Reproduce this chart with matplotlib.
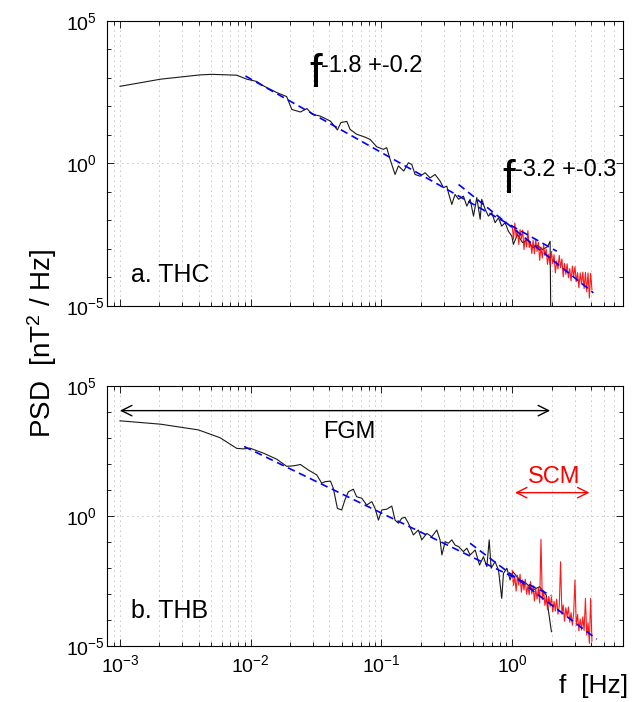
import numpy as np
import matplotlib
matplotlib.use('Agg')
import matplotlib.pyplot as plt
from matplotlib.ticker import LogLocator, NullFormatter

plt.rcParams['font.family'] = 'Liberation Sans'
plt.rcParams['mathtext.fontset'] = 'custom'
plt.rcParams['mathtext.rm'] = 'Liberation Sans'
plt.rcParams['mathtext.it'] = 'Liberation Sans:italic'
plt.rcParams['mathtext.bf'] = 'Liberation Sans:bold'

# ---- data (log10 f, log10 PSD) ----
# a. THC, FGM spectrum (black)
thc_fgm_lf = [-3.0, -2.69, -2.388, -2.30, -2.107, -2.03, -1.954, -1.90, -1.80, -1.725,
              -1.686, -1.62, -1.57, -1.53, -1.47, -1.39, -1.337, -1.31, -1.265, -1.24,
              -1.19, -1.138, -1.087, -1.036, -0.985, -0.96, -0.934, -0.896, -0.87, -0.83,
              -0.794, -0.768, -0.743, -0.705, -0.666, -0.628, -0.59, -0.552, -0.526, -0.50,
              -0.488, -0.462, -0.437, -0.41, -0.373, -0.347, -0.322, -0.296, -0.271, -0.245,
              -0.233, -0.207, -0.182, -0.156, -0.131, -0.105, -0.08, -0.054, -0.029, -0.003,
              0.009, 0.04, 0.079, 0.117, 0.156, 0.194, 0.232, 0.271, 0.29, 0.298]
thc_fgm_lp = [2.70, 2.95, 3.10, 3.12, 3.09, 2.95, 2.87, 2.71, 2.48, 2.34,
              1.89, 1.80, 1.92, 1.72, 1.66, 1.48, 1.17, 1.43, 1.47, 1.19,
              1.02, 0.94, 0.84, 0.58, 0.49, 0.55, 0.14, -0.39, -0.09, -0.27,
              0.02, -0.04, -0.39, -0.45, -0.33, -0.51, -0.39, -0.62, -0.85, -0.80,
              -1.03, -1.44, -1.09, -1.26, -1.15, -1.50, -1.26, -1.85, -1.20, -1.96,
              -1.26, -1.61, -1.85, -1.73, -2.08, -1.91, -2.20, -2.08, -2.38, -2.55,
              -2.84, -2.49, -2.78, -2.67, -2.96, -2.88, -3.02, -2.92, -2.73, -7.0]

# a. THC, SCM spectrum (red)
thc_scm_lf = [0.00, 0.01, 0.02, 0.03, 0.04, 0.05, 0.06, 0.07, 0.08, 0.09,
              0.10, 0.11, 0.12, 0.13, 0.14, 0.15, 0.16, 0.17, 0.18, 0.19,
              0.20, 0.21, 0.22, 0.23, 0.24, 0.25, 0.26, 0.27, 0.28, 0.29,
              0.30, 0.31, 0.32, 0.33, 0.34, 0.35, 0.36, 0.37, 0.38, 0.39,
              0.40, 0.41, 0.42, 0.43, 0.44, 0.45, 0.46, 0.47, 0.48, 0.49,
              0.50, 0.51, 0.52, 0.53, 0.54, 0.55, 0.56, 0.57, 0.58, 0.59,
              0.60, 0.61]
thc_scm_lp = [-2.18, -2.66, -2.09, -2.58, -2.36, -2.84, -2.32, -2.65, -2.34, -3.02,
              -2.60, -2.93, -2.36, -2.95, -2.78, -3.16, -2.69, -3.17, -2.66, -3.09,
              -2.77, -3.40, -2.93, -3.32, -2.85, -3.23, -3.01, -3.54, -3.18, -3.56,
              -3.09, -3.52, -3.20, -3.84, -3.42, -3.70, -3.23, -3.66, -3.35, -3.98,
              -3.51, -3.89, -3.52, -4.01, -3.69, -4.12, -3.60, -3.98, -3.62, -4.15,
              -3.83, -4.36, -3.84, -4.23, -3.81, -4.39, -3.82, -4.50, -3.84, -4.72,
              -3.85, -4.43]

# b. THB, FGM spectrum (black)
thb_fgm_lf = [-3.0, -2.69, -2.40, -2.235, -2.107, -2.057, -2.006, -1.954, -1.90, -1.80,
              -1.725, -1.67, -1.62, -1.56, -1.495, -1.457, -1.43, -1.39, -1.368, -1.337,
              -1.304, -1.28, -1.253, -1.215, -1.19, -1.15, -1.113, -1.074, -1.049, -1.023,
              -0.998, -0.96, -0.921, -0.896, -0.87, -0.845, -0.82, -0.794, -0.756, -0.718,
              -0.692, -0.653, -0.615, -0.577, -0.552, -0.538, -0.513, -0.488, -0.462, -0.437,
              -0.41, -0.373, -0.347, -0.322, -0.283, -0.25, -0.22, -0.194, -0.176, -0.161,
              -0.131, -0.105, -0.08, -0.067, -0.041, -0.016, 0.005, 0.056, 0.107, 0.158,
              0.209, 0.26, 0.30]
thb_fgm_lp = [3.65, 3.52, 3.30, 3.00, 2.59, 2.57, 2.60, 2.50, 2.40, 2.17,
              1.90, 1.92, 1.97, 1.76, 1.57, 1.25, 1.31, 1.33, 1.05, 0.28,
              0.22, 0.60, 0.92, 1.02, 0.73, 0.67, 0.41, 0.54, 0.28, -0.17,
              0.22, 0.25, 0.37, -0.17, -0.29, -0.10, -0.06, -0.29, -0.74, -0.55,
              -0.93, -0.68, -0.81, -0.55, -0.93, -1.51, -1.00, -1.06, -0.93, -1.13,
              -1.19, -1.38, -1.25, -1.51, -1.32, -1.90, -1.58, -1.96, -0.93, -2.02,
              -1.77, -2.09, -3.18, -2.22, -2.02, -2.47, -2.15, -2.47, -2.60, -2.86,
              -2.73, -3.05, -4.46]

# b. THB, SCM spectrum (red)
thb_scm_lf = thc_scm_lf
thb_scm_lp = [-2.10, -2.68, -2.32, -2.90, -2.29, -2.67, -2.25, -2.94, -2.47, -2.86,
              -2.44, -3.02, -2.71, -3.04, -2.53, -3.01, -2.69, -3.28, -2.81, -3.20,
              -2.78, -3.36, -0.91, -3.23, -2.87, -3.45, -3.13, -3.62, -3.10, -3.49,
              -3.12, -3.70, -3.29, -3.67, -3.21, -3.79, -3.47, -1.77, -3.79, -3.43,
              -4.06, -3.54, -3.88, -3.51, -4.10, -3.73, -4.21, -3.75, -2.47, -4.22,
              -3.80, -4.43, -3.97, -4.40, -3.89, -4.42, -3.18, -4.59, -4.12, -4.91,
              -3.18, -4.82]

# power-law fits (dashed blue), end points
thc_fit1_lf = [-2.04, 0.341]
thc_fit1_lp = [3.06, -3.08]
thc_fit2_lf = [-0.41, 0.621]
thc_fit2_lp = [-0.74, -4.54]
thb_fit1_lf = [-2.05, 0.30]
thb_fit1_lp = [2.66, -3.07]
thb_fit2_lf = [-0.322, 0.647]
thb_fit2_lp = [-1.06, -4.75]

# instrument ranges (Hz) and arrow heights (PSD)
fgm_range = [1e-3, 1.95]
fgm_arrow_p = 1.1e4
scm_range = [1.05, 3.9]
scm_arrow_p = 7.7

xticks = [1e-3, 1e-2, 1e-1, 1e0]
xticklabels = ['$10^{-3}$', '$10^{-2}$', '$10^{-1}$', '$10^{0}$']
yticks = [1e-5, 1e0, 1e5]
yticklabels = ['$10^{-5}$', '$10^{0}$', '$10^{5}$']

W, H = 633, 702


def fx(px):
    return px / W


def fy(py):
    return 1 - py / H


def tolin(vals):
    return 10 ** np.array(vals)


fig = plt.figure(figsize=(W / 100, H / 100), dpi=100)
ax1 = fig.add_axes([107.3 / W, fy(306), 515.4 / W, 285.3 / H])
ax2 = fig.add_axes([107.3 / W, fy(645.7), 515.4 / W, 260 / H])


def setup(ax, show_xlabels):
    ax.set_xscale('log')
    ax.set_yscale('log')
    ax.set_xlim(8e-4, 7)
    ax.set_ylim(1e-5, 1e5)
    ax.set_xticks(xticks)
    if show_xlabels:
        ax.set_xticklabels(xticklabels)
    else:
        ax.set_xticklabels([])
    ax.xaxis.set_minor_locator(LogLocator(base=10, subs=np.arange(2, 10), numticks=30))
    ax.xaxis.set_minor_formatter(NullFormatter())
    ax.set_yticks(yticks)
    ax.set_yticklabels(yticklabels, ha='left')
    ax.yaxis.set_minor_locator(LogLocator(base=10, subs=(1.0,), numticks=30))
    ax.yaxis.set_minor_formatter(NullFormatter())
    ax.tick_params(which='both', direction='in', top=True, right=True,
                   labelsize=14, width=0.6)
    ax.tick_params(which='major', length=5)
    ax.tick_params(which='minor', length=3)
    ax.tick_params(axis='y', pad=30)
    ax.tick_params(axis='x', pad=6)
    ax.grid(True, which='both', axis='x', ls=(0, (1, 5)), color='#888888', lw=0.6)
    ax.grid(True, which='major', axis='y', ls=(0, (1, 5)), color='#888888', lw=0.6)
    for s in ax.spines.values():
        s.set_linewidth(0.8)


setup(ax1, False)
setup(ax2, True)

for ax, blf, blp, rlf, rlp, fits in [
        (ax1, thc_fgm_lf, thc_fgm_lp, thc_scm_lf, thc_scm_lp,
         [(thc_fit1_lf, thc_fit1_lp), (thc_fit2_lf, thc_fit2_lp)]),
        (ax2, thb_fgm_lf, thb_fgm_lp, thb_scm_lf, thb_scm_lp,
         [(thb_fit1_lf, thb_fit1_lp), (thb_fit2_lf, thb_fit2_lp)])]:
    ax.plot(tolin(blf), tolin(blp), color='#1a1a1a', lw=0.8, zorder=3)
    ax.plot(tolin(rlf), tolin(rlp), color='red', lw=0.8, alpha=0.9, zorder=4)
    for flf, flp in fits:
        ax.plot(tolin(flf), tolin(flp), color='blue', lw=1.2,
                dashes=(4.5, 2.8), zorder=5)

# instrument range arrows
ax2.annotate('', xy=(fgm_range[0], fgm_arrow_p), xytext=(fgm_range[1], fgm_arrow_p),
             arrowprops=dict(arrowstyle='<->,head_length=0.5,head_width=0.25',
                             color='black', lw=1.0, shrinkA=0, shrinkB=0,
                             mutation_scale=15))
ax2.annotate('', xy=(scm_range[0], scm_arrow_p), xytext=(scm_range[1], scm_arrow_p),
             arrowprops=dict(arrowstyle='<->,head_length=0.5,head_width=0.25',
                             color='red', lw=1.0, shrinkA=0, shrinkB=0,
                             mutation_scale=15))

# labels
fig.text(fx(309), fy(87), 'f', fontsize=33, va='baseline')
fig.text(fx(321), fy(72), '-1.8 +-0.2', fontsize=17, va='baseline')
fig.text(fx(502), fy(193), 'f', fontsize=33, va='baseline')
fig.text(fx(515), fy(176), '-3.2 +-0.3', fontsize=17, va='baseline')
fig.text(fx(131), fy(282), 'a. THC', fontsize=18, va='baseline')
fig.text(fx(131), fy(618), 'b. THB', fontsize=18, va='baseline')
fig.text(fx(349), fy(438), 'FGM', fontsize=17, va='baseline', ha='center')
fig.text(fx(554), fy(483), 'SCM', fontsize=17, va='baseline', ha='center', color='red')
fig.text(fx(42), fy(343), 'PSD  [nT$^2$ / Hz]', fontsize=20, rotation=90,
         ha='center', va='center')
fig.text(fx(628), fy(693), 'f  [Hz]', fontsize=19, ha='right', va='baseline')

fig.savefig('out.png', dpi=100)
